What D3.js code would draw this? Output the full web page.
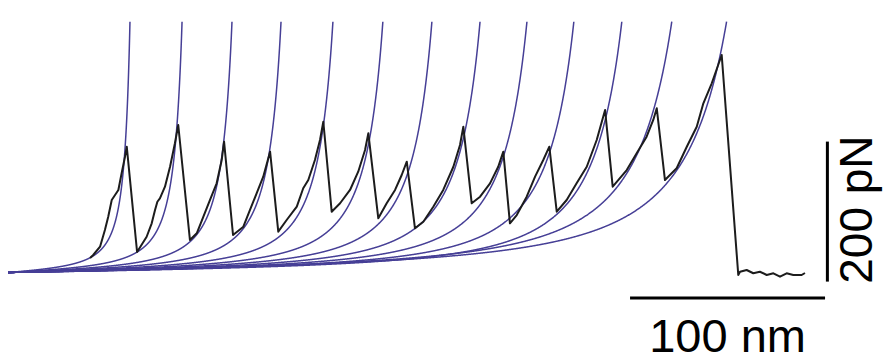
<!DOCTYPE html>
<html lang="en">
<head>
    <meta charset="UTF-8">
    <title>Force-extension trace with WLC fits</title>
    <style>
        body { margin: 0; background: #fff; }
        svg { display: block; background: #fff; }
        text { font-family: 'Liberation Sans', Arial, sans-serif; fill: #000; }
    </style>
</head>
<body>
<div id="chart"></div>
<script src="https://d3js.org/d3.v7.min.js"></script>
<script>
    // Measured trace: extension (nm) and force (pN)
    var extension = [42.1, 43.7, 47.2, 49.7, 51.4, 53.2, 54.9, 56.6, 58.3, 60.0, 60.9,
        66.2, 71.1, 73.7, 75.4, 76.6, 77.9, 80.5, 83.1, 85.6, 87.3,
        93.3, 96.8, 100.2, 103.6, 107.0, 109.6, 110.8,
        115.4, 120.7, 124.1, 127.5, 130.9, 134.4,
        138.6, 142.9, 148.1, 151.4, 154.0, 157.4, 160.0, 161.7,
        166.0, 170.3, 175.4, 179.6, 183.1, 184.8,
        189.9, 194.2, 198.5, 201.9, 204.5,
        208.7, 213.0, 218.1, 223.2, 228.4, 231.8, 233.5,
        237.8, 242.1, 247.2, 251.4, 254.0,
        257.4, 260.9, 266.0, 270.3, 274.5, 277.6,
        281.4, 286.5, 291.6, 296.8, 301.9, 306.2,
        310.1, 317.3, 322.4, 327.5, 330.9, 332.7,
        336.9, 342.9, 348.1, 353.2, 356.6, 360.9, 366.0,
        374.5, 375.4, 378.8, 382.2, 385.6, 389.1, 392.5, 395.9, 399.3, 402.7, 407.0, 408.7];
    var force = [20.7, 25.0, 36.9, 60.7, 79.7, 103.6, 110.7, 117.9, 142.1, 165.4, 179.7,
        29.3, 51.1, 70.3, 89.3, 101.1, 106.0, 122.6, 151.1, 184.6, 210.7,
        46.4, 56.0, 79.7, 103.6, 127.4, 160.7, 186.9,
        53.6, 65.4, 89.3, 113.1, 136.9, 172.6,
        58.3, 75.0, 94.0, 120.3, 132.1, 160.7, 189.3, 215.4,
        86.9, 98.9, 117.9, 144.0, 175.0, 198.9,
        77.4, 98.9, 117.9, 139.3, 158.3,
        63.1, 72.6, 94.0, 117.9, 151.1, 182.1, 208.3,
        98.9, 108.3, 127.4, 151.1, 172.6,
        70.3, 82.1, 108.3, 136.9, 160.7, 179.7,
        86.9, 103.6, 127.4, 151.1, 189.3, 232.1,
        122.6, 146.4, 170.3, 194.0, 217.9, 234.6,
        132.1, 148.9, 179.7, 208.3, 241.7, 270.3, 310.7,
        -3.6, 1.1, 3.6, -1.1, 1.1, -3.6, -1.1, -6.0, -1.1, -3.6, -3.6, -0.7];

    // WLC fits: contour length (nm) and persistence length (nm) of each curve
    var contourLength = [68.4, 97.6, 125.6, 153.1, 182.2, 210.2, 237.7, 264.7, 291.0, 317.3, 344.2, 377.8, 411.5];
    var persistence = [0.4, 0.4, 0.4, 0.4, 0.4, 0.4, 0.4, 0.4, 0.4, 0.4, 0.4, 0.3, 0.27];
    var kT = 4.11;      // pN nm
    var maxForce = 361; // fits are drawn up to this force

    // scale bars
    var barNm = 100, barPn = 200;

    var w = 883, h = 362;

    var x = d3.scaleLinear().domain([0, 100]).range([8, 203]);
    var y = d3.scaleLinear().domain([0, 200]).range([272.5, 132.5]);

    var svg = d3.select("#chart")
        .append("svg")
        .attr("width", w)
        .attr("height", h);

    var line = d3.line()
        .x(function(d) { return x(d[0]); })
        .y(function(d) { return y(d[1]); });

    // Marko-Siggia WLC, sampled in relative extension
    function wlc(L, p) {
        var pts = [];
        for (var r = 0; r < 0.99; r += 0.0005) {
            var f = (kT / p) * (1 / (4 * (1 - r) * (1 - r)) - 0.25 + r);
            if (f > maxForce) break;
            pts.push([L * r, f]);
        }
        return pts;
    }

    svg.append("g")
        .selectAll("path")
        .data(contourLength)
        .enter()
        .append("path")
        .attr("d", function(L, i) { return line(wlc(L, persistence[i])); })
        .attr("fill", "none")
        .attr("stroke", "#463f96")
        .attr("stroke-width", 1.5);

    var trace = extension.map(function(e, i) { return [e, force[i]]; });

    svg.append("path")
        .attr("d", line(trace))
        .attr("fill", "none")
        .attr("stroke", "#1c1c1c")
        .attr("stroke-width", 2)
        .attr("stroke-linejoin", "round");

    // horizontal scale bar (100 nm)
    var hx0 = 319, hy = -36.4;
    svg.append("line")
        .attr("x1", x(hx0)).attr("x2", x(hx0 + barNm))
        .attr("y1", y(hy)).attr("y2", y(hy))
        .attr("stroke", "#000").attr("stroke-width", 3);
    svg.append("text")
        .attr("x", (x(hx0) + x(hx0 + barNm)) / 2)
        .attr("y", 352)
        .attr("text-anchor", "middle")
        .attr("font-size", 47)
        .text("100 nm");

    // vertical scale bar (200 pN)
    var vx = 420.2, vy0 = -13;
    svg.append("line")
        .attr("x1", x(vx)).attr("x2", x(vx))
        .attr("y1", y(vy0)).attr("y2", y(vy0 + barPn))
        .attr("stroke", "#000").attr("stroke-width", 3);
    svg.append("text")
        .attr("transform", "translate(872," + ((y(vy0) + y(vy0 + barPn)) / 2 - 2) + ") rotate(-90)")
        .attr("text-anchor", "middle")
        .attr("font-size", 46)
        .text("200 pN");
</script>
</body>
</html>
